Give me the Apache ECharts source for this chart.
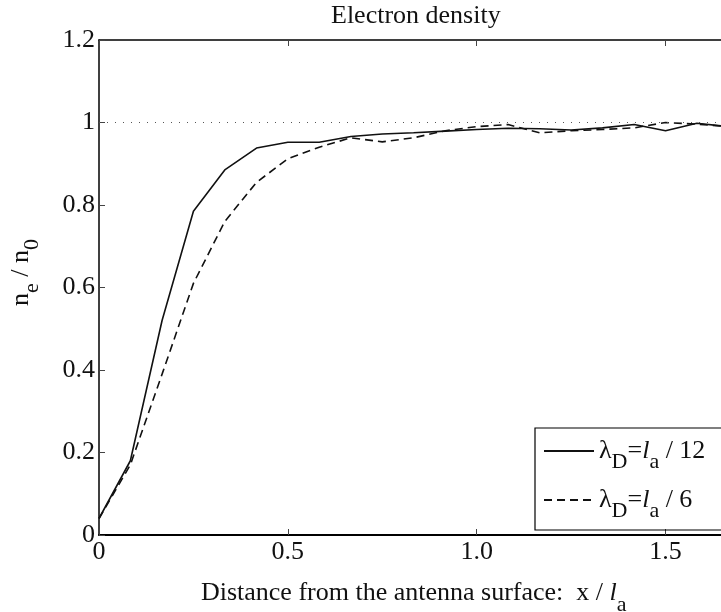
<!DOCTYPE html>
<html>
<head>
<meta charset="utf-8">
<script src="https://cdn.jsdelivr.net/npm/echarts@6/dist/echarts.min.js"></script>
<style>
  html, body { margin: 0; padding: 0; background: #fff; }
  #chart { width: 721px; height: 612px; }
</style>
</head>
<body>
<div id="chart"></div>
<script>
// distance x / l_a
var xVals = [0, 0.083, 0.167, 0.25, 0.333, 0.417, 0.5, 0.583, 0.667, 0.75, 0.833,
  0.917, 1.0, 1.083, 1.167, 1.25, 1.333, 1.417, 1.5, 1.583, 1.667]
// lambda_D = l_a / 12
var dens12 = [0.04, 0.18, 0.52, 0.785, 0.885, 0.938, 0.952, 0.952, 0.966, 0.972, 0.975,
  0.979, 0.983, 0.986, 0.985, 0.982, 0.987, 0.995, 0.98, 0.998, 0.99]
// lambda_D = l_a / 6
var dens6 = [0.04, 0.17, 0.39, 0.61, 0.76, 0.855, 0.912, 0.94, 0.963, 0.953, 0.963,
  0.98, 0.99, 0.995, 0.975, 0.98, 0.983, 0.987, 1.0, 0.996, 0.99]
var refLevel = 1

var font = 'Liberation Serif'
var names = ['λD=la / 12', 'λD=la / 6']

function pairs(ys) {
  return xVals.map(function (x, i) { return [x, ys[i]] })
}

var myChart = echarts.init(document.getElementById('chart'), null, { renderer: 'canvas' })

var option = {
  animation: false,
  backgroundColor: '#fff',
  title: {
    text: 'Electron density',
    left: 326,
    top: -2,
    textStyle: { fontFamily: font, fontWeight: 'normal', fontSize: 26, color: '#111' },
  },
  grid: {
    left: 99,
    top: 40,
    width: 629.5,
    height: 495,
    outerBoundsMode: 'none',
  },
  legend: {
    orient: 'vertical',
    left: 535,
    top: 428,
    itemWidth: 50,
    itemHeight: 14,
    itemGap: 14,
    padding: [10, 30, 8, 8],
    borderColor: '#000',
    borderWidth: 1.2,
    data: names,
    itemStyle: { opacity: 0 },
    formatter: function (name) {
      var den = name.split('/ ')[1]
      return '{a|λ}{s|D}{a|=}{i|l}{s|a}{a| / ' + den + '}'
    },
    textStyle: {
      fontFamily: font,
      fontSize: 26,
      color: '#111',
      rich: {
        a: { fontFamily: font, fontSize: 26, color: '#111' },
        i: { fontFamily: font, fontSize: 26, fontStyle: 'italic', color: '#111' },
        s: { fontFamily: font, fontSize: 22, color: '#111', padding: [22, 0, 0, 0] },
      },
    },
  },
  xAxis: [
    {
      type: 'value',
      min: 0,
      max: 5 / 3,
      interval: 0.5,
      name: '{a|Distance from the antenna surface:  x / }{i|l}{s|a}',
      nameLocation: 'middle',
      nameGap: 35,
      nameTextStyle: {
        rich: {
          a: { fontFamily: font, fontSize: 26, color: '#111' },
          i: { fontFamily: font, fontSize: 26, fontStyle: 'italic', color: '#111' },
          s: { fontFamily: font, fontSize: 22, color: '#111', padding: [24, 0, 0, 0] },
        },
      },
      axisLine: { lineStyle: { color: '#000', width: 2 } },
      axisTick: { inside: true, length: 6, lineStyle: { color: '#444', width: 1 } },
      axisLabel: {
        showMaxLabel: false,
        margin: 4,
        fontFamily: font,
        fontSize: 26,
        color: '#111',
        formatter: function (v) { return v === 0 ? '0' : v.toFixed(1) },
      },
      splitLine: { show: false },
    },
    {
      type: 'value',
      position: 'top',
      min: 0,
      max: 5 / 3,
      interval: 0.5,
      axisLine: { lineStyle: { color: '#000', width: 1.5 } },
      axisTick: { inside: true, length: 6, lineStyle: { color: '#444', width: 1 } },
      axisLabel: { show: false },
      splitLine: { show: false },
    },
  ],
  yAxis: {
    type: 'value',
    min: 0,
    max: 1.2,
    interval: 0.2,
    name: '{a|n}{s|e}{a| / n}{s|0}',
    nameLocation: 'middle',
    nameRotate: 90,
    nameGap: 56,
    nameTextStyle: {
      padding: [0, 0, 0, 30],
      rich: {
        a: { fontFamily: font, fontSize: 26, color: '#111' },
        s: { fontFamily: font, fontSize: 22, color: '#111', padding: [22, 0, 0, 0] },
      },
    },
    axisLine: { lineStyle: { color: '#000', width: 1.5 } },
    axisTick: { inside: true, length: 6, lineStyle: { color: '#444', width: 1 } },
    axisLabel: {
      margin: 4,
      fontFamily: font,
      fontSize: 26,
      color: '#111',
      formatter: function (v) { return String(Math.round(v * 10) / 10) },
    },
    splitLine: { show: false },
  },
  series: [
    {
      name: names[0],
      type: 'line',
      symbol: 'none',
      data: pairs(dens12),
      lineStyle: { color: '#111', width: 1.6, type: 'solid' },
      itemStyle: { color: '#111' },
      markLine: {
        silent: true,
        symbol: 'none',
        label: { show: false },
        lineStyle: { color: '#555', width: 1, type: [1, 7] },
        data: [{ yAxis: refLevel }],
      },
      z: 3,
    },
    {
      name: names[1],
      type: 'line',
      symbol: 'none',
      data: pairs(dens6),
      lineStyle: { color: '#111', width: 1.6, type: [8, 5] },
      itemStyle: { color: '#111' },
      z: 2,
    },
  ],
}

option && myChart.setOption(option)
window.addEventListener('resize', function () {
  myChart.resize()
})
</script>
</body>
</html>
